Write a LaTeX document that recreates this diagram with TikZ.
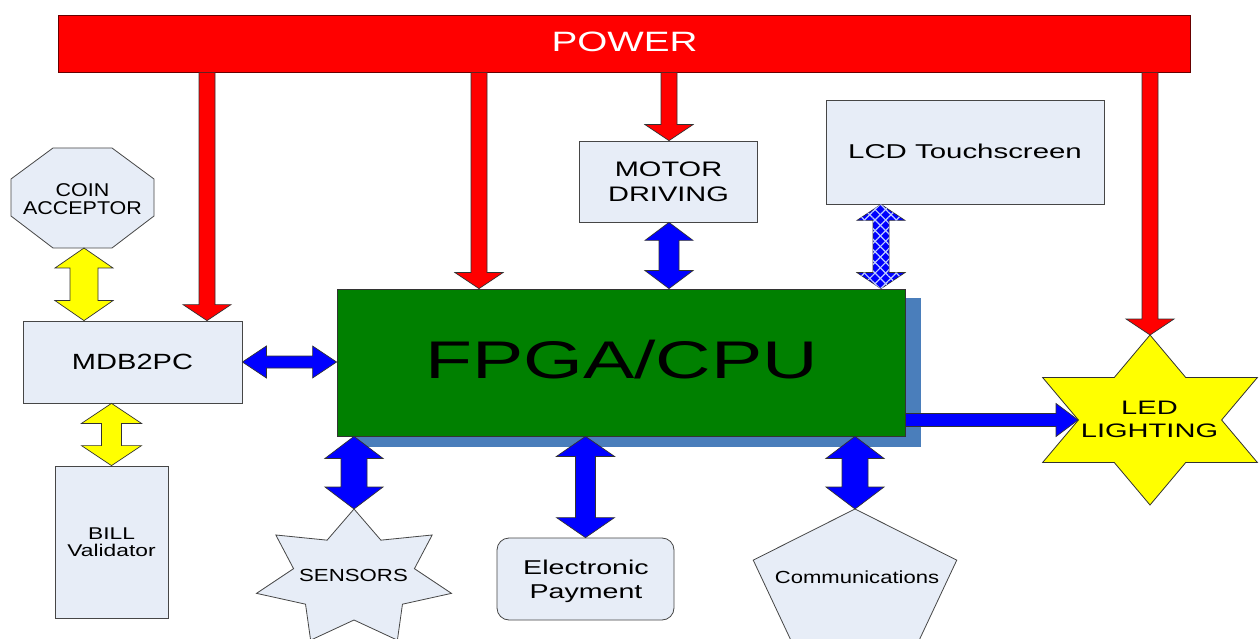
\documentclass[tikz,border=0pt]{standalone}
\usepackage{fontspec}
\setmainfont{Liberation Sans}
\usepackage{graphicx}
\usetikzlibrary{calc,patterns.meta}

\definecolor{pwrred}{RGB}{255,0,0}
\definecolor{boxfill}{RGB}{231,237,247}
\definecolor{boxline}{RGB}{70,70,70}
\definecolor{arrline}{RGB}{50,50,50}
\definecolor{fpgagreen}{RGB}{0,128,0}
\definecolor{shadowblue}{RGB}{74,126,187}
\definecolor{arrblue}{RGB}{0,0,255}
\definecolor{arryellow}{RGB}{255,255,0}
\definecolor{hatchlight}{RGB}{190,205,255}

% scaled text: #1 x-stretch, #2 font size, #3 line spacing, #4 text
\newcommand{\stxt}[4]{\scalebox{#1}[1]{\fontsize{#2}{#3}\selectfont\begin{tabular}[t]{@{}c@{}}#4\end{tabular}}}

% vertical double block arrow: style, top point, bottom point, shaft hw, head hw, head length
\newcommand{\vdarrow}[6]{\path[#1] let \p1=#2, \p2=#3 in
 (\x1,\y1) -- (\x1+#5pt,\y1-#6pt) -- (\x1+#4pt,\y1-#6pt) -- (\x1+#4pt,\y2+#6pt) -- (\x1+#5pt,\y2+#6pt) -- (\x1,\y2)
 -- (\x1-#5pt,\y2+#6pt) -- (\x1-#4pt,\y2+#6pt) -- (\x1-#4pt,\y1-#6pt) -- (\x1-#5pt,\y1-#6pt) -- cycle;}
% vertical single (downward) block arrow
\newcommand{\vsarrow}[6]{\path[#1] let \p1=#2, \p2=#3 in
 (\x1-#4pt,\y1) -- (\x1-#4pt,\y2+#6pt) -- (\x1-#5pt,\y2+#6pt) -- (\x1,\y2) -- (\x1+#5pt,\y2+#6pt) -- (\x1+#4pt,\y2+#6pt) -- (\x1+#4pt,\y1) -- cycle;}
% horizontal double block arrow: left point, right point
\newcommand{\hdarrow}[6]{\path[#1] let \p1=#2, \p2=#3 in
 (\x1,\y1) -- (\x1+#6pt,\y1+#5pt) -- (\x1+#6pt,\y1+#4pt) -- (\x2-#6pt,\y1+#4pt) -- (\x2-#6pt,\y1+#5pt) -- (\x2,\y1)
 -- (\x2-#6pt,\y1-#5pt) -- (\x2-#6pt,\y1-#4pt) -- (\x1+#6pt,\y1-#4pt) -- (\x1+#6pt,\y1-#5pt) -- cycle;}
% horizontal single (rightward) block arrow
\newcommand{\hsarrow}[6]{\path[#1] let \p1=#2, \p2=#3 in
 (\x1,\y1+#4pt) -- (\x2-#6pt,\y1+#4pt) -- (\x2-#6pt,\y1+#5pt) -- (\x2,\y1) -- (\x2-#6pt,\y1-#5pt) -- (\x2-#6pt,\y1-#4pt) -- (\x1,\y1-#4pt) -- cycle;}

\begin{document}
\begin{tikzpicture}[x=1pt,y=-1pt,
  box/.style={draw=boxline, fill=boxfill, line width=0.8pt, inner sep=0pt},
  shp/.style={draw=boxline, fill=boxfill, line width=0.8pt},
  lbl/.style={anchor=base, inner sep=0pt, text=black},
  redarr/.style={fill=pwrred, draw=arrline, line width=0.7pt},
  bluearr/.style={fill=arrblue, draw=arrline, line width=0.7pt},
  yelarr/.style={fill=arryellow, draw=arrline, line width=0.7pt},
  hatcharr/.style={fill=arrblue, draw=arrline, line width=0.7pt,
    postaction={pattern={Lines[angle=45,distance=7.5pt,line width=1.2pt]}, pattern color=hatchlight},
    postaction={pattern={Lines[angle=-45,distance=7.5pt,line width=1.2pt]}, pattern color=hatchlight}},
  ledstyle/.style={fill=arryellow, draw=arrline, line width=0.8pt}
]
\useasboundingbox (0,0) rectangle (1259,639);
\clip (0,0) rectangle (1259,639);
\fill[white] (0,0) rectangle (1259,639);

% ---- coordinates for arrow positions
\coordinate (p1) at (207,0);
\coordinate (p2) at (479,0);
\coordinate (p3) at (669,0);
\coordinate (p4) at (1150,0);
\coordinate (lcdx) at (881,0);
\coordinate (coinbot) at (84,248);
\coordinate (senstop) at (354,509);
\coordinate (commtop) at (855,509);
\coordinate (ledtop) at (1150,335);
\coordinate (ledleft) at (1078,420);

% ---- boxes
\node[draw=black!60!red, fill=pwrred, line width=0.8pt, minimum width=1132pt, minimum height=57pt, inner sep=0pt] (power) at (624,43.5) {};
\node[lbl, text=white] (powertxt) at (624.5,52) {\stxt{1.38}{28pt}{30pt}{POWER}};

\fill[shadowblue] (352,298) rectangle (921,447);
\node[draw=black!80, fill=fpgagreen, line width=0.8pt, minimum width=568pt, minimum height=147pt, inner sep=0pt] (fpga) at (621,362.5) {};
\node[lbl] (fpgatxt) at (621.5,378) {\stxt{1.45}{53pt}{60pt}{FPGA/CPU}};

\node[box, minimum width=178pt, minimum height=81pt] (motor) at (668,181.5) {};
\node[lbl] (motortxt) at (668.5,177) {\stxt{1.38}{21pt}{25pt}{MOTOR\\DRIVING}};

\node[box, minimum width=278pt, minimum height=104pt] (lcd) at (965,152) {};
\node[lbl] (lcdtxt) at (965,159) {\stxt{1.47}{20pt}{24pt}{LCD Touchscreen}};

\node[box, minimum width=219pt, minimum height=82pt] (mdb) at (132.5,362) {};
\node[lbl] (mdbtxt) at (132.5,369) {\stxt{1.32}{22pt}{26pt}{MDB2PC}};

\node[box, minimum width=113pt, minimum height=152pt] (bill) at (111.5,542) {};
\node[lbl] (billtxt) at (111.5,539) {\stxt{1.34}{17pt}{17.7pt}{BILL\\Validator}};

\node[box, rounded corners=12pt, minimum width=177pt, minimum height=82pt] (epay) at (585.5,579) {};
\node[lbl] (epaytxt) at (586,574) {\stxt{1.43}{20pt}{24pt}{Electronic\\Payment}};

% coin acceptor octagon
\draw[shp] (53,148) -- (112,148) -- (154,179) -- (154,216) -- (112,248) -- (53,248) -- (11,216) -- (11,179) -- cycle;
\node[lbl] (cointxt) at (82.5,196.7) {\stxt{1.16}{18.5pt}{17.3pt}{COIN\\ACCEPTOR}};

% sensors 7-point star
\draw[shp] plot[samples at={0,...,13}] ({354+((mod(\x,2)==0)?100:62)*cos(90+25.7142857*\x)}, {578-((mod(\x,2)==0)?69:42)*sin(90+25.7142857*\x)}) -- cycle;
\node[lbl] (senstxt) at (353.5,581) {\stxt{1.27}{17.5pt}{20pt}{SENSORS}};

% communications pentagon
\draw[shp] plot[samples at={0,...,4}] ({855+107*cos(90+72*\x)}, {583-74*sin(90+72*\x)}) -- cycle;
\node[lbl] (commtxt) at (857,583) {\stxt{1.26}{17.5pt}{20pt}{Communications}};

% LED star
\draw[ledstyle] plot[samples at={0,...,11}] ({1150+((mod(\x,2)==0)?124:71.6)*cos(90+30*\x)}, {420-((mod(\x,2)==0)?85:49)*sin(90+30*\x)}) -- cycle;
\node[lbl] (ledtxt) at (1149.5,414) {\stxt{1.49}{19.5pt}{23pt}{LED\\LIGHTING}};

% ---- power arrows
\vsarrow{redarr}{(power.south -| p1)}{(mdb.north -| p1)}{8}{24}{16}
\vsarrow{redarr}{(power.south -| p2)}{(fpga.north -| p2)}{8}{24}{16}
\vsarrow{redarr}{(power.south -| p3)}{(motor.north -| p3)}{8}{24}{16}
\vsarrow{redarr}{(power.south -| p4)}{(ledtop)}{8}{24}{16}

% ---- data arrows
\vdarrow{yelarr}{(coinbot)}{(mdb.north -| coinbot)}{14}{29}{20}
\vdarrow{yelarr}{(mdb.south -| bill.north)}{(bill.north)}{10}{30}{20}
\hdarrow{bluearr}{(mdb.east)}{(fpga.west |- mdb.east)}{6}{16}{24}
\vdarrow{bluearr}{(motor.south -| p3)}{(fpga.north -| p3)}{10}{24}{18}
\vdarrow{hatcharr}{(lcd.south -| lcdx)}{(fpga.north -| lcdx)}{8}{24}{16}
\vdarrow{bluearr}{(fpga.south -| senstop)}{(senstop)}{13}{29}{22}
\vdarrow{bluearr}{(fpga.south -| epay.north)}{(epay.north)}{10}{29}{20}
\vdarrow{bluearr}{(fpga.south -| commtop)}{(commtop)}{13}{29}{22}
\hsarrow{bluearr}{(fpga.east |- ledleft)}{(ledleft)}{6.5}{16.5}{22}
\end{tikzpicture}
\end{document}
